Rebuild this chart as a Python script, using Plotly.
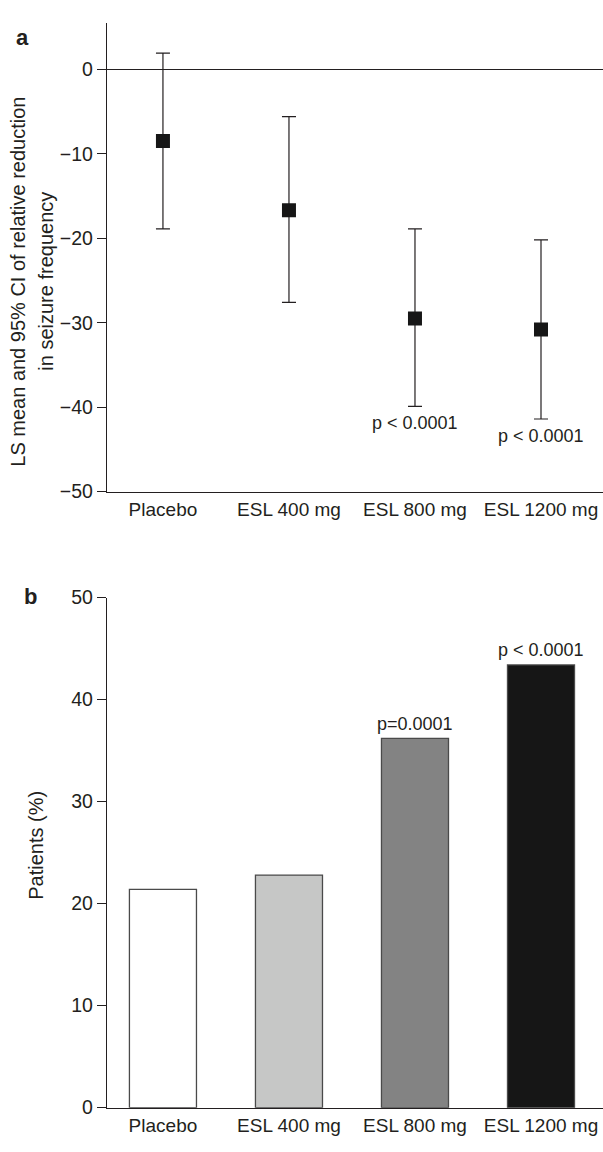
import plotly.graph_objects as go

# ---- data ----
categories = ["Placebo", "ESL 400 mg", "ESL 800 mg", "ESL 1200 mg"]
ls_mean = [-8.5, -16.7, -29.5, -30.8]
ci_lower = [-18.9, -27.6, -39.9, -41.4]
ci_upper = [1.9, -5.6, -18.9, -20.2]
p_text_a = ["", "", "p < 0.0001", "p < 0.0001"]

responders = [21.4, 22.8, 36.2, 43.4]
bar_colors = ["#ffffff", "#c6c7c6", "#838383", "#161616"]
p_text_b = ["", "", "p=0.0001", "p < 0.0001"]

yticks_a = [-50, -40, -30, -20, -10, 0]
yticks_b = [0, 10, 20, 30, 40, 50]

W, H = 603, 1152
L = 107
FONT = "Liberation Sans, Arial, Helvetica, sans-serif"
TXT = "#231f20"

def px_x(px):
    return (px - L) / (W - L)

def px_y(py):
    return (H - py) / H

fig = go.Figure()

# panel a: LS mean with 95% CI
fig.add_trace(go.Scatter(
    x=categories, y=ls_mean, mode="markers",
    marker=dict(symbol="square", size=14, color="#161616"),
    error_y=dict(type="data", symmetric=False,
                 array=[u - m for u, m in zip(ci_upper, ls_mean)],
                 arrayminus=[m - l for m, l in zip(ls_mean, ci_lower)],
                 color="#231f20", thickness=1.2, width=7),
    xaxis="x", yaxis="y", showlegend=False, hoverinfo="skip"))

# panel b: bars
fig.add_trace(go.Bar(
    x=categories, y=responders, width=0.532,
    marker=dict(color=bar_colors, line=dict(color="#4a4a4a", width=1.3)),
    xaxis="x2", yaxis="y2", showlegend=False, hoverinfo="skip"))

annotations = []
for c, lo, t in zip(categories, ci_lower, p_text_a):
    if t:
        annotations.append(dict(x=c, y=lo, xref="x", yref="y", text=t,
                                showarrow=False, yanchor="middle", yshift=-17,
                                font=dict(size=18, color=TXT, family=FONT)))
for c, v, t in zip(categories, responders, p_text_b):
    if t:
        annotations.append(dict(x=c, y=v, xref="x2", yref="y2", text=t,
                                showarrow=False, yanchor="middle", yshift=14.5,
                                font=dict(size=18, color=TXT, family=FONT)))

# panel letters
annotations.append(dict(x=px_x(22), y=px_y(27), xref="paper", yref="paper", text="<b>a</b>",
                        showarrow=False, xanchor="center", yanchor="middle",
                        font=dict(size=22, color=TXT, family=FONT)))
annotations.append(dict(x=px_x(30), y=px_y(597), xref="paper", yref="paper", text="<b>b</b>",
                        showarrow=False, xanchor="center", yanchor="middle",
                        font=dict(size=22, color=TXT, family=FONT)))
# y titles
annotations.append(dict(x=px_x(18), y=px_y(276), xref="paper", yref="paper",
                        text="LS mean and 95% CI of relative reduction",
                        textangle=-90, showarrow=False, xanchor="center", yanchor="middle",
                        font=dict(size=20, color=TXT, family=FONT)))
annotations.append(dict(x=px_x(46), y=px_y(276), xref="paper", yref="paper",
                        text="in seizure frequency",
                        textangle=-90, showarrow=False, xanchor="center", yanchor="middle",
                        font=dict(size=20, color=TXT, family=FONT)))
annotations.append(dict(x=px_x(36), y=px_y(851), xref="paper", yref="paper",
                        text="Patients (%)",
                        textangle=-90, showarrow=False, xanchor="center", yanchor="middle",
                        font=dict(size=20, color=TXT, family=FONT)))

xrange = [-0.444, 3.492]
axis_common = dict(showgrid=False, linecolor=TXT, linewidth=1.2)
tick_font = dict(size=19.5, color=TXT, family=FONT)
cat_font = dict(size=19, color=TXT, family=FONT)

fig.update_layout(
    width=W, height=H,
    margin=dict(l=L, r=0, t=0, b=0),
    paper_bgcolor="white", plot_bgcolor="white",
    showlegend=False,
    annotations=annotations,
    xaxis=dict(domain=[0, 1], anchor="y", type="category", range=xrange,
               showline=True, ticks="", zeroline=False, tickfont=cat_font, **axis_common),
    yaxis=dict(domain=[px_y(490), px_y(12)], anchor="x", range=[-50, 5.5],
               tickvals=yticks_a, ticks="outside", ticklen=9, tickwidth=1.2, tickcolor=TXT,
               showline=True, zeroline=True, zerolinecolor=TXT, zerolinewidth=1.2,
               tickfont=tick_font, **axis_common),
    xaxis2=dict(domain=[0, 1], anchor="y2", type="category", range=xrange,
                showline=True, ticks="", zeroline=False, tickfont=cat_font, **axis_common),
    yaxis2=dict(domain=[px_y(1118), px_y(598)], anchor="x2", range=[0, 50],
                tickvals=yticks_b, ticks="outside", ticklen=9, tickwidth=1.2, tickcolor=TXT,
                showline=True, zeroline=False, tickfont=tick_font, **axis_common),
)

# remove the default page margin so the figure sits at the window origin
fig.write_html("out.html",
               config={"displayModeBar": False, "staticPlot": True},
               post_script="document.body.style.margin='0';document.body.style.overflow='hidden';")
